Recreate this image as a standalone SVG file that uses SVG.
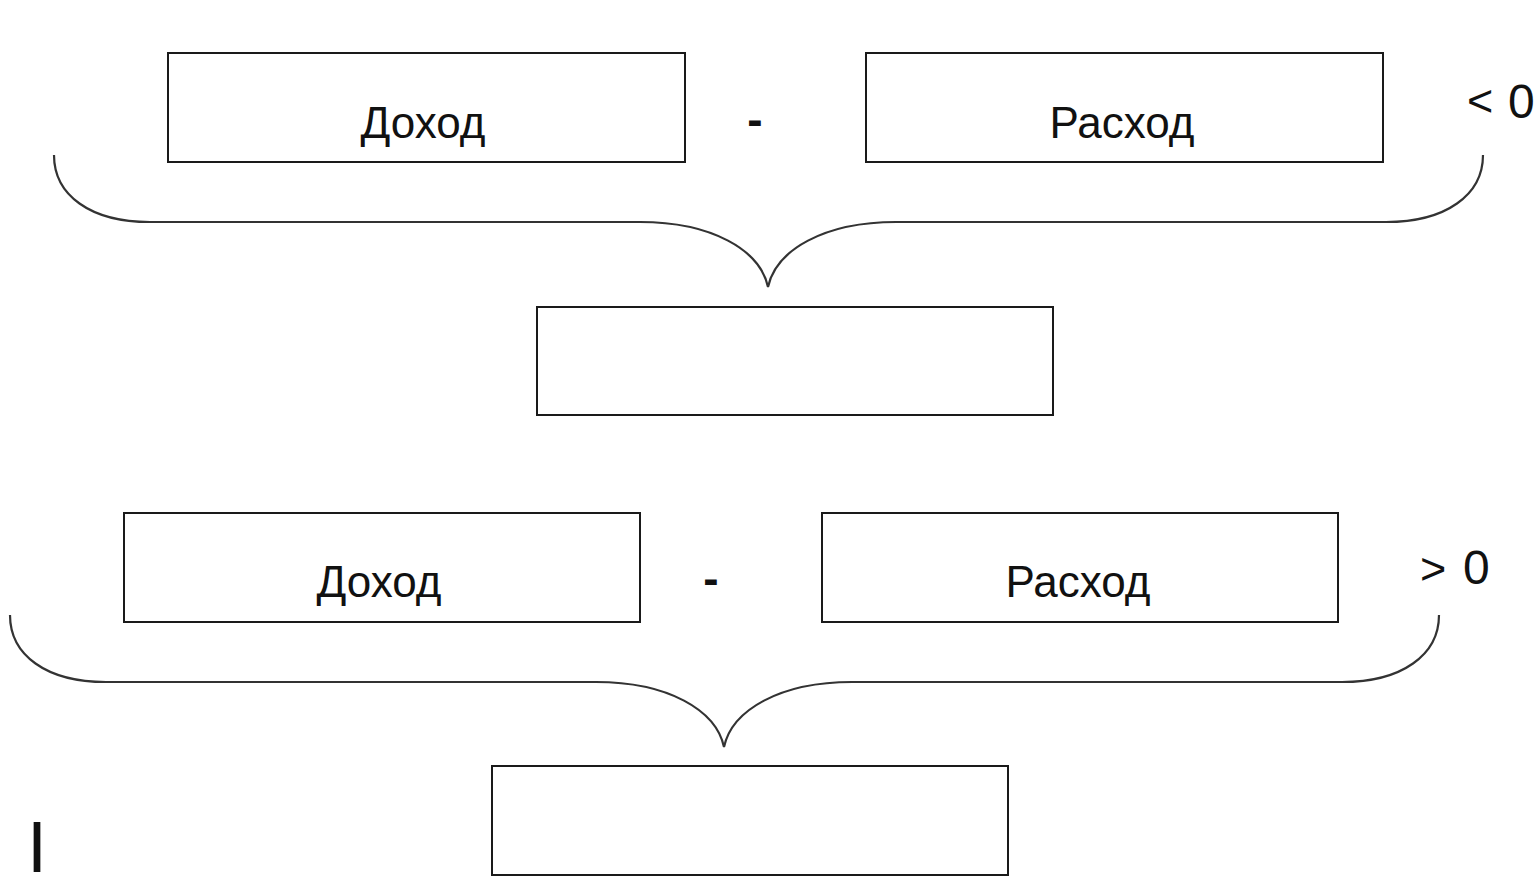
<svg xmlns="http://www.w3.org/2000/svg" width="1537" height="879" viewBox="0 0 1537 879">
<style>
.box{fill:#fff;stroke:#1a1a1a;stroke-width:2}
.brace{fill:none;stroke:#333;stroke-width:2.2}
.t{font-family:"Liberation Sans",Arial,sans-serif;font-size:44px;fill:#111;text-anchor:middle}
.m{font-family:"Liberation Sans",Arial,sans-serif;font-size:46px;font-weight:bold;fill:#111;text-anchor:middle}
.s{font-family:"Liberation Sans",Arial,sans-serif;fill:#111}
</style>
<rect width="1537" height="879" fill="#fff"/>
<g id="connectors">
<path id="brace-top" class="brace" d="M54,155 C54,195 90,222 150,222 L640,222 C712,222 760,250 768,287 C776,250 824,222 896,222 L1386,222 C1446,222 1483,195 1483,155"/>
<path id="brace-bottom" class="brace" transform="translate(-44,460)" d="M54,155 C54,195 90,222 150,222 L640,222 C712,222 760,250 768,287 C776,250 824,222 896,222 L1386,222 C1446,222 1483,195 1483,155"/>
</g>
<g id="income1"><rect class="box" x="168" y="53" width="517" height="109"/><text class="t" x="423" y="138">Доход</text></g>
<g id="minus1"><text class="m" x="755" y="135">-</text></g>
<g id="expense1"><rect class="box" x="866" y="53" width="517" height="109"/><text class="t" x="1122" y="138">Расход</text></g>
<g id="lt0"><text class="s" x="1467" y="116" style="font-size:45px">&lt;</text><text class="s" x="1508" y="118" style="font-size:48px">0</text></g>
<g id="result1"><rect class="box" x="537" y="307" width="516" height="108"/></g>
<g id="income2"><rect class="box" x="124" y="513" width="516" height="109"/><text class="t" x="379" y="597">Доход</text></g>
<g id="minus2"><text class="m" x="711" y="594">-</text></g>
<g id="expense2"><rect class="box" x="822" y="513" width="516" height="109"/><text class="t" x="1078" y="597">Расход</text></g>
<g id="gt0"><text class="s" x="1420" y="584" style="font-size:45px">&gt;</text><text class="s" x="1463" y="584" style="font-size:48px">0</text></g>
<g id="result2"><rect class="box" x="492" y="766" width="516" height="109"/></g>
<g id="cursor"><text class="s" x="27" y="872" style="font-size:72px">I</text></g>
</svg>
